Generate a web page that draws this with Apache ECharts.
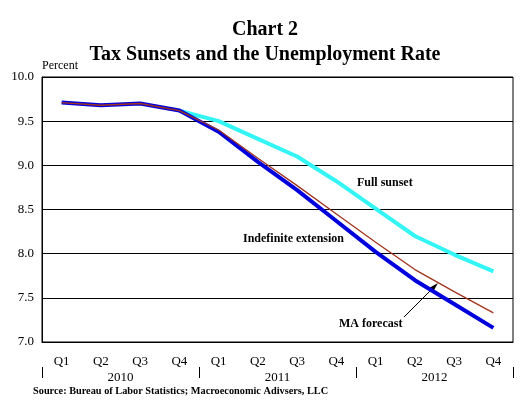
<!DOCTYPE html>
<html><head><meta charset="utf-8">
<script src="https://cdn.jsdelivr.net/npm/echarts@6/dist/echarts.min.js"></script>
<style>html,body{margin:0;padding:0;background:#fff}#c{width:530px;height:408px}</style>
</head><body><div id="c"></div>
<script>
const quarters = ['Q1','Q2','Q3','Q4','Q1','Q2','Q3','Q4','Q1','Q2','Q3','Q4'];
const years = ['2010','2011','2012'];
const yTicks = [7.0, 7.5, 8.0, 8.5, 9.0, 9.5, 10.0];
const fullSunset = [null, null, null, 9.62, 9.50, 9.30, 9.10, 8.82, 8.51, 8.20, 7.99, 7.80];
const indefiniteExt = [9.71, 9.68, 9.70, 9.62, 9.38, 9.04, 8.72, 8.37, 8.02, 7.70, 7.43, 7.16];
const maForecast = [9.71, 9.68, 9.70, 9.62, 9.40, 9.08, 8.77, 8.45, 8.13, 7.82, 7.57, 7.33];

const serif = '"Liberation Serif", "DejaVu Serif", serif';
const chart = echarts.init(document.getElementById('c'));
chart.setOption({
  animation: false,
  backgroundColor: '#fff',
  title: {
    text: 'Chart 2\nTax Sunsets and the Unemployment Rate',
    left: 'center', top: 12,
    textStyle: { fontFamily: serif, fontWeight: 'bold', fontSize: 20, color: '#000', lineHeight: 25 }
  },
  grid: { left: 42, right: 17, top: 77, bottom: 66, show: true, borderColor: '#000', borderWidth: 1 },
  xAxis: [{
    type: 'category', data: quarters, boundaryGap: true, position: 'bottom',
    axisLine: { lineStyle: { color: '#000', width: 1 } },
    axisTick: { alignWithLabel: true, length: 7, lineStyle: { color: '#000' } },
    axisLabel: { color: '#000', fontFamily: serif, fontSize: 13, margin: 13 }
  }, {
    type: 'category', data: years, boundaryGap: true, position: 'bottom', offset: 25,
    axisLine: { show: false },
    axisTick: { show: true, length: 11, lineStyle: { color: '#000' } },
    axisLabel: { color: '#000', fontFamily: serif, fontSize: 13, margin: 4 }
  }],
  yAxis: {
    type: 'value', min: 7, max: 10, interval: 0.5,
    name: 'Percent', nameLocation: 'end', nameGap: 5,
    nameTextStyle: { color: '#000', fontFamily: serif, fontSize: 12, align: 'left', padding: [0, 0, 0, 0] },
    axisLine: { show: true, lineStyle: { color: '#000' } },
    axisTick: { show: false },
    splitLine: { lineStyle: { color: '#000', width: 1 } },
    axisLabel: { color: '#000', fontFamily: serif, fontSize: 13, margin: 8, formatter: v => v.toFixed(1) }
  },
  series: [
    { name: 'Full sunset', type: 'line', data: fullSunset, symbol: 'none', lineStyle: { color: '#33F5F5', width: 4 }, z: 2 },
    { name: 'Indefinite extension', type: 'line', data: indefiniteExt, symbol: 'none', lineStyle: { color: '#0000DD', width: 4 }, z: 3 },
    { name: 'MA forecast', type: 'line', data: maForecast, symbol: 'none', lineStyle: { color: '#A0341E', width: 1.3 }, z: 4 }
  ],
  graphic: [
    { type: 'text', left: 357, top: 177, style: { text: 'Full sunset', fontFamily: serif, fontWeight: 'bold', fontSize: 12, fill: '#000' } },
    { type: 'text', left: 243, top: 233, style: { text: 'Indefinite extension', fontFamily: serif, fontWeight: 'bold', fontSize: 12, fill: '#000' } },
    { type: 'text', left: 339, top: 318, style: { text: 'MA forecast', fontFamily: serif, fontWeight: 'bold', fontSize: 12, fill: '#000' } },
    { type: 'line', shape: { x1: 404, y1: 317, x2: 435, y2: 286 }, style: { stroke: '#000', lineWidth: 1 } },
    { type: 'polygon', shape: { points: [[438, 283], [429, 288], [433, 292]] }, style: { fill: '#000' } },
    { type: 'text', left: 33, top: 386, style: { text: 'Source: Bureau of Labor Statistics; Macroeconomic Adivsers, LLC', fontFamily: serif, fontWeight: 'bold', fontSize: 10.3, fill: '#000' } }
  ]
});
</script></body></html>
